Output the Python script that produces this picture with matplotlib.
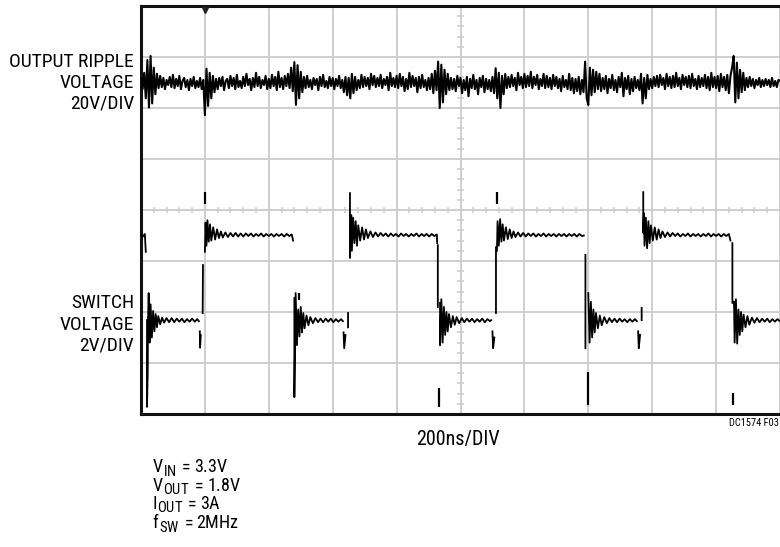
import numpy as np
import matplotlib
matplotlib.use("Agg")
import matplotlib.pyplot as plt
from matplotlib import font_manager as fm

# ---------------- font choice (condensed sans preferred) ----------------
avail = {f.name for f in fm.fontManager.ttflist}
cands = ['Liberation Sans Narrow', 'Arial Narrow', 'Roboto Condensed',
         'Open Sans Condensed', 'Noto Sans Condensed', 'Nimbus Sans Narrow']
narrow = next((c for c in cands if c in avail), None)
stretch = 'normal'
if narrow is None:
    for f in fm.fontManager.ttflist:
        if 'condensed' in str(f.stretch) and f.style == 'normal' and f.weight in (400, 'normal', 'regular'):
            narrow = f.name
            stretch = str(f.stretch)
            break
if narrow is None:
    narrow = 'Liberation Sans'
    scale = 0.85
else:
    scale = 1.0
plt.rcParams['font.family'] = [narrow, 'DejaVu Sans']
plt.rcParams['font.stretch'] = stretch
plt.rcParams['mathtext.fontset'] = 'custom'
plt.rcParams['mathtext.rm'] = narrow

# ---------------- data (divisions) ----------------
ripple_center = 6.49
ripple_step = 0.025
# output ripple deviations, hundredths of a division, one every 0.025 div
ripple_off = [
    8, -12, 20, -30, 45, -48, 53, -40, 30, -22, 18, -10, 14, -8, 10, -12, 6, -4, 12, -8,
    16, -10, 8, -6, 14, -12, 4, 10, -8, 6, -14, 8, -6, 12, -10, 4, -8, 10, -12, 6,
    -63, 28, -45, 20, -30, 14, -18, 8, -12, 10, -6, 12, -14, 4, 8, -10, 14, -6, 10, -12,
    16, -8, 4, -10, 12, -6, 18, -4, 8, -14, 10, -8, 20, -6, 12, -10, 6, -4, 14, -12,
    8, -10, 16, -6, 12, -14, 22, -8, 10, -12, 14, -6, 18, -10, 30, -16, 41, -43, 35, -30,
    22, -18, 12, -10, 14, -8, 6, -12, 10, -4, 8, -14, 12, -6, 16, -8, 4, -10, 12, -6,
    10, -12, 8, -6, 14, -10, 6, -18, 12, -24, 10, -30, 18, -20, 12, -14, 6, -10, 16, -8,
    12, -6, 10, -12, 18, -4, 14, -8, 10, -6, 16, -10, 8, -4, 12, -14, 20, -6, 10, -8,
    14, -10, 18, -6, 12, -16, 8, -12, 20, -8, 14, -6, 10, -18, 12, -10, 16, -8, 6, -14,
    10, -12, 18, -20, 24, -14, 42, -49, 36, -38, 26, -22, 18, -14, 10, -12, 8, -16, 14, -6,
    10, -20, 6, -14, 12, -26, 8, -10, 16, -12, 6, -22, 10, -8, 14, -18, 8, -12, 6, -16,
    12, -20, 29, -30, 20, -49, 14, -22, 18, -10, 12, -8, 16, -6, 10, -14, 20, -4, 12, -10,
    18, -8, 14, -6, 22, -10, 12, -4, 16, -12, 8, -6, 18, -10, 14, -8, 10, -12, 16, -6,
    12, -10, 8, -16, 14, -8, 6, -12, 18, -14, 10, -20, 8, -16, 12, -22, 6, -18, 42, -30,
    -43, 30, -24, 26, -18, 22, -12, 18, -16, 10, -12, 14, -20, 8, -10, 16, -14, 6, -18, 12,
    -8, 20, -26, 10, -12, 14, -22, 8, -16, 12, -10, 6, -14, 18, -40, 10, -30, 16, -12, 8,
    -10, 12, -6, 14, -8, 16, -4, 10, -12, 18, -6, 12, -10, 14, -8, 20, -6, 10, -12, 16,
    -4, 12, -8, 14, -10, 18, -6, 8, -12, 14, -8, 10, -6, 16, -10, 12, -14, 20, -8, 12,
    -10, 14, -16, 18, -8, 12, -14, 16, -20, 14, 30, 53, -38, 40, -30, 26, -18, 20, -14, 10,
    -8, 12, -6, 8, -10, 6, -4, 10, -8, 6, -6, 8, -4, 6, -8, 10, -6, 4, -8, 6,
    4,
]

nan = float('nan')
# switch-node trace: (time div, level div); nan breaks the trace
sw_t = [
    0.00, 0.03, 0.06, 0.075, nan,
    0.094, 0.094, 0.105, 0.11, 0.12, 0.135, 0.15, 0.17, 0.19, 0.21, 0.23, 0.25, 0.27, 0.30,
    0.33, 0.36, 0.40, 0.44, 0.48, 0.52, 0.56, 0.60, 0.64, 0.68, 0.72, 0.76, 0.80, 0.84, 0.88, 0.905, nan,
    0.92, 0.925, 0.935, nan,
    0.965, 0.97, nan,
    1.00, 1.01, 1.025, 1.04, 1.06, 1.08, 1.10, 1.13, 1.16, 1.19, 1.22, 1.25, 1.28, 1.32, 1.36, 1.40,
    1.44, 1.48, 1.52, 1.56, 1.60, 1.64, 1.68, 1.72, 1.76, 1.80, 1.84, 1.88, 1.92, 1.96, 2.00, 2.04,
    2.08, 2.12, 2.16, 2.20, 2.24, 2.28, 2.32, 2.36, 2.38, nan,
    2.40, 2.40, 2.42, 2.44, 2.46, 2.48, 2.50, 2.52, 2.54, 2.56, 2.59, 2.62, 2.65, 2.69, 2.73, 2.77,
    2.81, 2.85, 2.89, 2.93, 2.97, 3.01, 3.05, 3.09, 3.13, 3.16, nan,
    3.17, 3.18, 3.20, nan,
    3.24, 3.24, nan,
    3.27, 3.27, 3.29, 3.30, 3.32, 3.34, 3.36, 3.38, 3.40, 3.43, 3.46, 3.49, 3.52, 3.55, 3.59, 3.63,
    3.67, 3.71, 3.75, 3.79, 3.83, 3.87, 3.91, 3.95, 3.99, 4.03, 4.07, 4.11, 4.15, 4.19, 4.23, 4.27,
    4.31, 4.35, 4.39, 4.43, 4.47, 4.51, 4.55, 4.59, 4.63, 4.635, nan,
    4.645, 4.645, nan,
    4.68, 4.68, 4.70, 4.72, 4.74, 4.76, 4.78, 4.80, 4.82, 4.85, 4.88, 4.91, 4.94, 4.98, 5.02, 5.06,
    5.10, 5.14, 5.18, 5.22, 5.26, 5.30, 5.34, 5.38, 5.42, 5.46, 5.48, nan,
    5.50, 5.51, 5.53, nan,
    5.555, 5.555, nan,
    5.57, 5.58, 5.60, 5.62, 5.64, 5.66, 5.68, 5.71, 5.74, 5.77, 5.80, 5.83, 5.86, 5.90, 5.94, 5.98,
    6.02, 6.06, 6.10, 6.14, 6.18, 6.22, 6.26, 6.30, 6.34, 6.38, 6.42, 6.46, 6.50, 6.54, 6.58, 6.62,
    6.66, 6.70, 6.74, 6.78, 6.82, 6.86, 6.90, 6.93, nan,
    6.955, 6.955, nan,
    7.00, 7.02, 7.04, 7.06, 7.08, 7.10, 7.12, 7.15, 7.18, 7.21, 7.25, 7.29, 7.33, 7.37, 7.41, 7.45,
    7.49, 7.53, 7.57, 7.61, 7.65, 7.69, 7.73, 7.76, nan,
    7.78, 7.79, 7.81, nan,
    7.835, 7.835, nan,
    7.86, 7.86, 7.87, 7.88, 7.90, 7.92, 7.94, 7.96, 7.98, 8.01, 8.04, 8.07, 8.10, 8.13, 8.16, 8.20,
    8.24, 8.28, 8.32, 8.36, 8.40, 8.44, 8.48, 8.52, 8.56, 8.60, 8.64, 8.68, 8.72, 8.76, 8.80, 8.84,
    8.88, 8.92, 8.96, 9.00, 9.04, 9.08, 9.12, 9.16, 9.20, 9.225, nan,
    9.255, 9.255, nan,
    9.28, 9.29, 9.31, 9.33, 9.35, 9.37, 9.39, 9.41, 9.43, 9.46, 9.49, 9.52, 9.56, 9.60, 9.64, 9.68,
    9.72, 9.76, 9.80, 9.84, 9.88, 9.92, 9.96, 10.0,
]
sw_v = [
    3.51, 3.48, 3.53, 3.18, nan,
    1.84, 0.14, 0.82, 1.84, 2.37, 1.40, 2.15, 1.50, 2.02, 1.62, 1.96, 1.70, 1.92, 1.76,
    1.89, 1.79, 1.88, 1.80, 1.88, 1.80, 1.87, 1.81, 1.87, 1.80, 1.86, 1.81, 1.87, 1.81, 1.86, 1.82, nan,
    1.62, 1.30, 1.55, nan,
    1.98, 2.92, nan,
    3.18, 3.75, 3.30, 3.80, 3.38, 3.72, 3.40, 3.66, 3.42, 3.62, 3.45, 3.58, 3.46, 3.56, 3.47, 3.55,
    3.48, 3.55, 3.48, 3.54, 3.48, 3.54, 3.49, 3.54, 3.48, 3.53, 3.49, 3.54, 3.48, 3.53, 3.49, 3.53,
    3.48, 3.53, 3.49, 3.53, 3.48, 3.53, 3.49, 3.52, 3.40, nan,
    2.27, 0.33, 2.37, 1.35, 2.05, 1.52, 2.10, 1.60, 1.98, 1.68, 1.93, 1.74, 1.90, 1.78, 1.88, 1.80,
    1.87, 1.80, 1.87, 1.81, 1.87, 1.80, 1.86, 1.81, 1.86, 1.82, nan,
    1.60, 1.29, 1.55, nan,
    1.98, 1.70, nan,
    4.33, 3.06, 3.90, 3.20, 3.85, 3.35, 3.78, 3.30, 3.70, 3.40, 3.66, 3.42, 3.62, 3.45, 3.58, 3.47,
    3.56, 3.48, 3.55, 3.49, 3.54, 3.48, 3.54, 3.49, 3.53, 3.48, 3.54, 3.49, 3.53, 3.48, 3.53, 3.49,
    3.54, 3.48, 3.53, 3.49, 3.53, 3.48, 3.53, 3.49, 3.52, 3.35, nan,
    3.31, 2.10, nan,
    2.18, 1.35, 2.25, 1.40, 2.10, 1.55, 2.00, 1.62, 1.96, 1.70, 1.92, 1.75, 1.90, 1.78, 1.88, 1.80,
    1.87, 1.81, 1.87, 1.80, 1.86, 1.81, 1.87, 1.80, 1.86, 1.82, 1.84, nan,
    1.62, 1.29, 1.50, nan,
    1.98, 3.27, nan,
    3.20, 3.78, 3.30, 3.82, 3.38, 3.72, 3.40, 3.66, 3.43, 3.62, 3.45, 3.58, 3.47, 3.56, 3.48, 3.55,
    3.48, 3.54, 3.49, 3.54, 3.48, 3.53, 3.49, 3.54, 3.48, 3.53, 3.49, 3.53, 3.48, 3.53, 3.49, 3.53,
    3.48, 3.53, 3.49, 3.53, 3.48, 3.53, 3.49, 3.50, nan,
    3.12, 1.29, nan,
    2.37, 1.40, 2.20, 1.50, 2.05, 1.60, 1.98, 1.68, 1.93, 1.74, 1.90, 1.78, 1.88, 1.80, 1.87, 1.80,
    1.87, 1.81, 1.86, 1.80, 1.86, 1.81, 1.86, 1.82, nan,
    1.62, 1.29, 1.55, nan,
    2.08, 1.84, nan,
    4.35, 3.55, 3.94, 3.30, 3.85, 3.25, 3.78, 3.35, 3.70, 3.40, 3.66, 3.42, 3.62, 3.45, 3.58, 3.47,
    3.56, 3.48, 3.55, 3.49, 3.54, 3.48, 3.53, 3.49, 3.54, 3.48, 3.53, 3.49, 3.53, 3.48, 3.53, 3.49,
    3.54, 3.48, 3.53, 3.49, 3.53, 3.48, 3.53, 3.49, 3.53, 3.40, nan,
    3.35, 2.18, nan,
    2.20, 1.40, 2.25, 1.38, 2.05, 1.55, 2.00, 1.62, 1.95, 1.70, 1.92, 1.75, 1.89, 1.79, 1.88, 1.80,
    1.87, 1.81, 1.87, 1.80, 1.86, 1.81, 1.86, 1.82,
]
# detached spike segments on the switch trace
spike_t = [1.00, 2.47, 4.66, 5.57, 6.99, 9.27]
spike_lo = [4.12, 2.24, 0.14, 4.12, 0.18, 0.18]
spike_hi = [4.35, 2.37, 0.51, 4.35, 0.82, 0.41]

trigger_t = 1.0
n_xdiv, n_ydiv = 10, 8

# ---------------- figure ----------------
W, H = 780, 547
fig = plt.figure(figsize=(W / 100, H / 100), dpi=100)
ax = fig.add_axes([141 / W, 1 - 414 / H, 639 / W, 408 / H])
ax.set_xlim(0, n_xdiv)
ax.set_ylim(0, n_ydiv)

grid_c = '#cccccc'
ax.set_xticks(range(n_xdiv + 1))
ax.set_yticks(range(n_ydiv + 1))
ax.tick_params(length=0, labelbottom=False, labelleft=False)
ax.grid(True, color=grid_c, linewidth=1.3)
ax.set_axisbelow(True)

# minor ticks on the center lines
minor_x = np.arange(0, n_xdiv + 0.001, 0.2)
minor_y = np.arange(0, n_ydiv + 0.001, 0.2)
ax.vlines(minor_x, n_ydiv / 2 - 0.06, n_ydiv / 2 + 0.06, color=grid_c, lw=1.1, zorder=1)
ax.hlines(minor_y, n_xdiv / 2 - 0.05, n_xdiv / 2 + 0.05, color=grid_c, lw=1.1, zorder=1)

for s in ['left', 'top', 'bottom']:
    ax.spines[s].set_linewidth(2.2)
    ax.spines[s].set_color('#111111')
ax.spines['right'].set_visible(False)

# traces
rx = np.arange(len(ripple_off)) * ripple_step
ry = ripple_center + np.array(ripple_off) / 100.0
ax.plot(rx, ry, color='black', lw=1.5, zorder=3)

ax.plot(sw_t, sw_v, color='black', lw=1.3, zorder=3)
ax.vlines(spike_t, spike_lo, spike_hi, color='black', lw=1.6, zorder=3)

# trigger marker
ax.plot([trigger_t], [n_ydiv - 0.07], marker='v', color='#222222', markersize=5,
        clip_on=False, zorder=4)

# ---------------- text ----------------
def ftxt(x, y, s, **kw):
    return fig.text(x / W, 1 - y / H, s, **kw)

fs = 14 * scale
for y, s in [(62, 'OUTPUT RIPPLE'), (83, 'VOLTAGE'), (103, '20V/DIV'),
             (303, 'SWITCH'), (325, 'VOLTAGE'), (346, '2V/DIV')]:
    ftxt(134, y, s, ha='right', va='center', fontsize=fs)

ftxt(458, 439, '200ns/DIV', ha='center', va='center', fontsize=14.5 * scale)
ftxt(779, 423, 'DC1574 F03', ha='right', va='center', fontsize=7.5 * scale)

# conditions block: symbol, subscript, "=", value set piece by piece
renderer = fig.canvas.get_renderer()
cond_sym = ['V', 'V', 'I', 'f']
cond_sub = ['IN', 'OUT', 'OUT', 'SW']
cond_val = ['3.3V', '1.8V', '3A', '2MHz']
cond_base = [472, 491, 509, 528]
cfs = 13 * scale


def piece(x, yb, s, size):
    t = ftxt(x, yb, r'$\mathregular{' + s + '}$', ha='left', va='baseline', fontsize=size)
    return x + t.get_window_extent(renderer).width


for sym, sub, val, yb in zip(cond_sym, cond_sub, cond_val, cond_base):
    x = piece(152.0, yb, sym, cfs) - 0.5
    x = piece(x, yb + 3.5, sub, cfs * 0.82) + 1.5
    x = piece(x, yb, '=', cfs) + 2.5
    piece(x, yb, val, cfs)

fig.savefig('out.png', dpi=100)
